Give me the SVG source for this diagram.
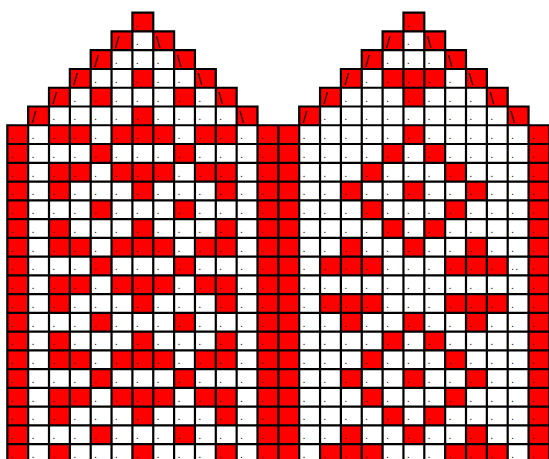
<svg xmlns="http://www.w3.org/2000/svg" width="549" height="459" viewBox="0 0 549 459">
<style>
.red rect{fill:#ff0000}
.grid{fill:none;stroke:#000;stroke-width:2.2;stroke-linecap:square}
.dot{font-family:"Liberation Sans",Arial,sans-serif;font-size:11px;fill:#111}
.sl{font-family:"Liberation Sans",Arial,sans-serif;font-size:17px;fill:#111}
</style>
<rect x="0" y="0" width="549" height="459" fill="#fff"/>
<g id="chart" transform="translate(7.3 12.7) scale(20.85 18.76)">
<g id="red-cells" class="red">
<rect x="6" y="0" width="1" height="1"/><rect x="19" y="0" width="1" height="1"/>
<rect x="5" y="1" width="1" height="1"/><rect x="7" y="1" width="1" height="1"/><rect x="18" y="1" width="1" height="1"/><rect x="20" y="1" width="1" height="1"/>
<rect x="4" y="2" width="1" height="1"/><rect x="8" y="2" width="1" height="1"/><rect x="17" y="2" width="1" height="1"/><rect x="21" y="2" width="1" height="1"/>
<rect x="3" y="3" width="1" height="1"/><rect x="6" y="3" width="1" height="1"/><rect x="9" y="3" width="1" height="1"/><rect x="16" y="3" width="1" height="1"/><rect x="18" y="3" width="3" height="1"/><rect x="22" y="3" width="1" height="1"/>
<rect x="2" y="4" width="1" height="1"/><rect x="4" y="4" width="1" height="1"/><rect x="8" y="4" width="1" height="1"/><rect x="10" y="4" width="1" height="1"/><rect x="15" y="4" width="1" height="1"/><rect x="19" y="4" width="1" height="1"/><rect x="23" y="4" width="1" height="1"/>
<rect x="1" y="5" width="1" height="1"/><rect x="6" y="5" width="1" height="1"/><rect x="11" y="5" width="1" height="1"/><rect x="14" y="5" width="1" height="1"/><rect x="24" y="5" width="1" height="1"/>
<rect x="0" y="6" width="1" height="18"/><rect x="12" y="6" width="2" height="18"/><rect x="25" y="6" width="1" height="18"/>
<rect x="2" y="6" width="2" height="1"/><rect x="5" y="6" width="3" height="1"/><rect x="9" y="6" width="2" height="1"/>
<rect x="4" y="7" width="1" height="1"/><rect x="8" y="7" width="1" height="1"/>
<rect x="2" y="8" width="2" height="1"/><rect x="5" y="8" width="3" height="1"/><rect x="9" y="8" width="2" height="1"/>
<rect x="2" y="9" width="1" height="1"/><rect x="6" y="9" width="1" height="1"/><rect x="10" y="9" width="1" height="1"/>
<rect x="4" y="10" width="1" height="1"/><rect x="8" y="10" width="1" height="1"/>
<rect x="2" y="11" width="1" height="1"/><rect x="6" y="11" width="1" height="1"/><rect x="10" y="11" width="1" height="1"/>
<rect x="2" y="12" width="2" height="1"/><rect x="5" y="12" width="3" height="1"/><rect x="9" y="12" width="2" height="1"/>
<rect x="4" y="13" width="1" height="1"/><rect x="8" y="13" width="1" height="1"/>
<rect x="2" y="14" width="2" height="1"/><rect x="5" y="14" width="3" height="1"/><rect x="9" y="14" width="2" height="1"/>
<rect x="2" y="15" width="1" height="1"/><rect x="6" y="15" width="1" height="1"/><rect x="10" y="15" width="1" height="1"/>
<rect x="4" y="16" width="1" height="1"/><rect x="8" y="16" width="1" height="1"/>
<rect x="2" y="17" width="1" height="1"/><rect x="6" y="17" width="1" height="1"/><rect x="10" y="17" width="1" height="1"/>
<rect x="2" y="18" width="2" height="1"/><rect x="5" y="18" width="3" height="1"/><rect x="9" y="18" width="2" height="1"/>
<rect x="4" y="19" width="1" height="1"/><rect x="8" y="19" width="1" height="1"/>
<rect x="2" y="20" width="2" height="1"/><rect x="5" y="20" width="3" height="1"/><rect x="9" y="20" width="2" height="1"/>
<rect x="2" y="21" width="1" height="1"/><rect x="6" y="21" width="1" height="1"/><rect x="10" y="21" width="1" height="1"/>
<rect x="4" y="22" width="1" height="1"/><rect x="8" y="22" width="1" height="1"/>
<rect x="2" y="23" width="1" height="1"/><rect x="6" y="23" width="1" height="1"/><rect x="10" y="23" width="1" height="1"/>
<rect x="19" y="6" width="1" height="1"/>
<rect x="18" y="7" width="1" height="1"/><rect x="20" y="7" width="1" height="1"/>
<rect x="17" y="8" width="1" height="1"/><rect x="21" y="8" width="1" height="1"/>
<rect x="16" y="9" width="1" height="1"/><rect x="19" y="9" width="1" height="1"/><rect x="22" y="9" width="1" height="1"/>
<rect x="17" y="10" width="1" height="1"/><rect x="21" y="10" width="1" height="1"/>
<rect x="18" y="11" width="1" height="1"/><rect x="20" y="11" width="1" height="1"/>
<rect x="16" y="12" width="1" height="1"/><rect x="19" y="12" width="1" height="1"/><rect x="22" y="12" width="1" height="1"/>
<rect x="15" y="13" width="3" height="1"/><rect x="21" y="13" width="3" height="1"/>
<rect x="15" y="15" width="3" height="1"/><rect x="21" y="15" width="3" height="1"/>
<rect x="16" y="16" width="1" height="1"/><rect x="19" y="16" width="1" height="1"/><rect x="22" y="16" width="1" height="1"/>
<rect x="18" y="17" width="1" height="1"/><rect x="20" y="17" width="1" height="1"/>
<rect x="17" y="18" width="1" height="1"/><rect x="21" y="18" width="1" height="1"/>
<rect x="16" y="19" width="1" height="1"/><rect x="19" y="19" width="1" height="1"/><rect x="22" y="19" width="1" height="1"/>
<rect x="17" y="20" width="1" height="1"/><rect x="21" y="20" width="1" height="1"/>
<rect x="18" y="21" width="1" height="1"/><rect x="20" y="21" width="1" height="1"/>
<rect x="16" y="22" width="1" height="1"/><rect x="19" y="22" width="1" height="1"/><rect x="22" y="22" width="1" height="1"/>
<rect x="15" y="23" width="3" height="1"/><rect x="21" y="23" width="3" height="1"/>
</g>
<path id="grid-lines" class="grid" vector-effect="non-scaling-stroke" d="M6 0H7M19 0H20M5 1H8M18 1H21M4 2H9M17 2H22M3 3H10M16 3H23M2 4H11M15 4H24M1 5H12M14 5H25M0 6H26M0 7H26M0 8H26M0 9H26M0 10H26M0 11H26M0 12H26M0 13H26M0 14H26M0 15H26M0 16H26M0 17H26M0 18H26M0 19H26M0 20H26M0 21H26M0 22H26M0 23H26M0 24H26M0 6V24M1 5V24M2 4V24M3 3V24M4 2V24M5 1V24M6 0V24M7 0V24M8 1V24M9 2V24M10 3V24M11 4V24M12 5V24M13 6V24M14 5V24M15 4V24M16 3V24M17 2V24M18 1V24M19 0V24M20 0V24M21 1V24M22 2V24M23 3V24M24 4V24M25 5V24M26 6V24"/>
</g>
<g id="symbols" class="sl">
<text x="114.55" y="47.76">/</text>
<text x="93.7" y="66.52">/</text>
<text x="72.85" y="85.28">/</text>
<text x="52" y="104.04">/</text>
<text x="31.15" y="122.8">/</text>
<text x="385.6" y="47.76">/</text>
<text x="364.75" y="66.52">/</text>
<text x="343.9" y="85.28">/</text>
<text x="323.05" y="104.04">/</text>
<text x="302.2" y="122.8">/</text>
<text x="155.55" y="47.76">\</text>
<text x="176.4" y="66.52">\</text>
<text x="197.25" y="85.28">\</text>
<text x="218.1" y="104.04">\</text>
<text x="238.95" y="122.8">\</text>
<text x="426.6" y="47.76">\</text>
<text x="447.45" y="66.52">\</text>
<text x="468.3" y="85.28">\</text>
<text x="489.15" y="104.04">\</text>
<text x="510" y="122.8">\</text>
</g>
<g id="dots" class="dot">
<text x="135.7" y="26.5">.</text>
<text x="406.75" y="26.5">.</text>
<text x="135.7" y="45.26">.</text>
<text x="406.75" y="45.26">.</text>
<text x="114.85 135.7 156.55" y="64.02">...</text>
<text x="385.9 406.75 427.6" y="64.02">...</text>
<text x="94 114.85 135.7 156.55 177.4" y="82.78">.....</text>
<text x="365.05 385.9 406.75 427.6 448.45" y="82.78">.....</text>
<text x="73.15 94 114.85 135.7 156.55 177.4 198.25" y="101.54">.......</text>
<text x="344.2 365.05 385.9 406.75 427.6 448.45 469.3" y="101.54">.......</text>
<text x="52.3 73.15 94 114.85 135.7 156.55 177.4 198.25 219.1" y="120.3">.........</text>
<text x="323.35 344.2 365.05 385.9 406.75 427.6 448.45 469.3 490.15" y="120.3">.........</text>
<text x="10.6 31.45 52.3 73.15 94 114.85 135.7 156.55 177.4 198.25 219.1 239.95 260.8 302.5 323.35 344.2 365.05 385.9 406.75 427.6 448.45 469.3 490.15 511 531.85" y="139.06">.........................</text>
<text x="10.6 31.45 52.3 73.15 94 114.85 135.7 156.55 177.4 198.25 219.1 239.95 260.8 302.5 323.35 344.2 365.05 385.9 406.75 427.6 448.45 469.3 490.15 511 531.85" y="157.82">.........................</text>
<text x="10.6 31.45 52.3 73.15 94 114.85 135.7 156.55 177.4 198.25 219.1 239.95 260.8 302.5 323.35 344.2 365.05 385.9 406.75 427.6 448.45 469.3 490.15 511 531.85" y="176.58">.........................</text>
<text x="10.6 31.45 52.3 73.15 94 114.85 135.7 156.55 177.4 198.25 219.1 239.95 260.8 302.5 323.35 344.2 365.05 385.9 406.75 427.6 448.45 469.3 490.15 511 531.85" y="195.34">.........................</text>
<text x="10.6 31.45 52.3 73.15 94 114.85 135.7 156.55 177.4 198.25 219.1 239.95 260.8 302.5 323.35 344.2 365.05 385.9 406.75 427.6 448.45 469.3 490.15 511 531.85" y="214.1">.........................</text>
<text x="10.6 31.45 52.3 73.15 94 114.85 135.7 156.55 177.4 198.25 219.1 239.95 260.8 302.5 323.35 344.2 365.05 385.9 406.75 427.6 448.45 469.3 490.15 511 531.85" y="232.86">.........................</text>
<text x="10.6 31.45 52.3 73.15 94 114.85 135.7 156.55 177.4 198.25 219.1 239.95 260.8 302.5 323.35 344.2 365.05 385.9 406.75 427.6 448.45 469.3 490.15 511 531.85" y="251.62">.........................</text>
<text x="10.6 31.45 52.3 73.15 94 114.85 135.7 156.55 177.4 198.25 219.1 239.95 260.8 302.5 323.35 344.2 365.05 385.9 406.75 427.6 448.45 469.3 490.15 511 515.2 531.85" y="270.38">..........................</text>
<text x="10.6 31.45 52.3 73.15 94 114.85 135.7 156.55 177.4 198.25 219.1 239.95 260.8 302.5 323.35 344.2 365.05 385.9 406.75 427.6 448.45 469.3 490.15 511 531.85" y="289.14">.........................</text>
<text x="10.6 31.45 52.3 73.15 94 114.85 135.7 156.55 177.4 198.25 219.1 239.95 260.8 302.5 323.35 344.2 365.05 385.9 406.75 427.6 448.45 469.3 490.15 511 531.85" y="307.9">.........................</text>
<text x="10.6 31.45 52.3 73.15 94 114.85 135.7 156.55 177.4 198.25 219.1 239.95 260.8 302.5 323.35 344.2 365.05 385.9 406.75 427.6 448.45 469.3 490.15 511 531.85" y="326.66">.........................</text>
<text x="10.6 31.45 52.3 73.15 94 114.85 135.7 156.55 177.4 198.25 219.1 239.95 260.8 302.5 323.35 344.2 365.05 385.9 406.75 427.6 448.45 469.3 490.15 511 531.85" y="345.42">.........................</text>
<text x="10.6 31.45 52.3 73.15 94 114.85 135.7 156.55 177.4 198.25 219.1 239.95 260.8 302.5 323.35 344.2 365.05 385.9 406.75 427.6 448.45 469.3 490.15 511 531.85" y="364.18">.........................</text>
<text x="10.6 31.45 52.3 73.15 94 114.85 135.7 156.55 177.4 198.25 219.1 239.95 260.8 302.5 323.35 344.2 365.05 385.9 406.75 427.6 448.45 469.3 490.15 511 531.85" y="382.94">.........................</text>
<text x="10.6 31.45 52.3 73.15 94 114.85 135.7 156.55 177.4 198.25 219.1 239.95 260.8 302.5 323.35 344.2 365.05 385.9 406.75 427.6 448.45 469.3 490.15 511 531.85" y="401.7">.........................</text>
<text x="10.6 31.45 52.3 73.15 94 114.85 135.7 156.55 177.4 198.25 219.1 239.95 260.8 302.5 323.35 344.2 365.05 385.9 406.75 427.6 448.45 469.3 490.15 511 531.85" y="420.46">.........................</text>
<text x="10.6 31.45 52.3 73.15 94 114.85 135.7 156.55 177.4 198.25 219.1 239.95 260.8 302.5 323.35 344.2 365.05 385.9 406.75 427.6 448.45 469.3 490.15 511 531.85" y="439.22">.........................</text>
<text x="10.6 31.45 52.3 73.15 94 114.85 135.7 156.55 177.4 198.25 219.1 239.95 260.8 302.5 323.35 344.2 365.05 385.9 406.75 427.6 448.45 469.3 490.15 511 531.85" y="457.98">.........................</text>
</g>
</svg>
